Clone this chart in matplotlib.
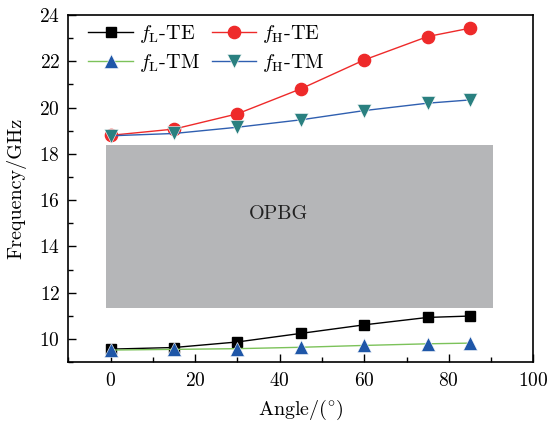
import matplotlib

matplotlib.use("Agg")
import matplotlib.pyplot as plt
from matplotlib.patches import Rectangle
from matplotlib.ticker import MultipleLocator

plt.rcParams["font.family"] = ["cmr10", "DejaVu Serif"]
plt.rcParams["mathtext.fontset"] = "cm"
plt.rcParams["axes.formatter.use_mathtext"] = True
plt.rcParams["font.size"] = 14.5

# incidence angle (degrees)
angle = [0, 15, 30, 45, 60, 75, 85]

# band edge frequencies (GHz)
fl_te = [9.56, 9.63, 9.87, 10.24, 10.61, 10.93, 10.99]
fh_te = [18.80, 19.07, 19.73, 20.81, 22.06, 23.07, 23.43]
fl_tm = [9.52, 9.55, 9.58, 9.64, 9.72, 9.79, 9.82]
fh_tm = [18.78, 18.88, 19.15, 19.47, 19.87, 20.19, 20.33]

# omnidirectional band gap region
opbg_x = (-1.0, 90.5)
opbg_y = (11.35, 18.38)

fig = plt.figure(figsize=(5.51, 4.23), dpi=100)
ax = fig.add_axes([0.124, 0.144, 0.844, 0.8205])

ax.add_patch(Rectangle((opbg_x[0], opbg_y[0]), opbg_x[1] - opbg_x[0], opbg_y[1] - opbg_y[0],
                       facecolor="#b5b6b8", edgecolor="none", zorder=1))
ax.text(sum(opbg_x) / 2 - 5, 15.42, "OPBG", ha="center", va="center", fontsize=14.5, color="#222222")

l1, = ax.plot(angle, fl_te, color="black", lw=1.0, marker="s", ms=7.8, mfc="black", mec="black",
              label=r"$f_{\rm L}$-TE", zorder=3)
l2, = ax.plot(angle, fh_te, color="#ee2a2a", lw=1.0, marker="o", ms=8.8, mfc="#ee2a2a", mec="#ee2a2a",
              label=r"$f_{\rm H}$-TE", zorder=3)
l3, = ax.plot(angle, fl_tm, color="#7cc25a", lw=1.0, marker="^", ms=9.5, mfc="#1f57a8", mec="white",
              mew=0.4, label=r"$f_{\rm L}$-TM", zorder=4)
l4, = ax.plot(angle, fh_tm, color="#2f5fb0", lw=1.0, marker="v", ms=9.5, mfc="#2a8080", mec="white",
              mew=0.4, label=r"$f_{\rm H}$-TM", zorder=3)

ax.set_xlim(-10, 100)
ax.set_ylim(9, 24)
ax.xaxis.set_major_locator(MultipleLocator(20))
ax.xaxis.set_minor_locator(MultipleLocator(10))
ax.yaxis.set_major_locator(MultipleLocator(2))
ax.yaxis.set_minor_locator(MultipleLocator(1))
ax.set_yticks(range(10, 25, 2))
ax.tick_params(which="both", direction="in", top=False, right=False, width=1.0, labelsize=14)
ax.tick_params(which="major", length=6)
ax.tick_params(which="minor", length=3.5)
ax.tick_params(axis="x", pad=7)
ax.tick_params(axis="y", pad=6)
for s in ax.spines.values():
    s.set_linewidth(1.2)

ax.set_xlabel(r"Angle/($^{\circ}$)", labelpad=6)
ax.set_ylabel("Frequency/GHz", labelpad=9)

# column-wise fill: TE entries on the first row, TM on the second
ax.legend([l1, l3, l2, l4], [l.get_label() for l in (l1, l3, l2, l4)],
          loc="upper left", bbox_to_anchor=(0.026, 1.0), ncol=2, frameon=False,
          handlelength=2.2, columnspacing=0.6, handletextpad=0.3, borderaxespad=0,
          labelspacing=0.35, fontsize=14.5)

fig.savefig("out.png", dpi=100)
